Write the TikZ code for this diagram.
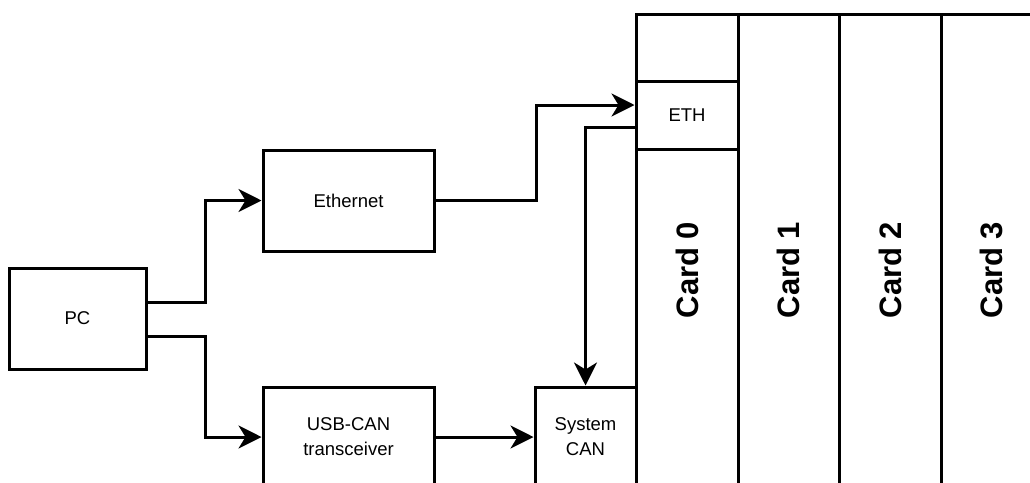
\documentclass[tikz,border=0pt]{standalone}
\usepackage{fontspec}
\setmainfont{Liberation Sans}
\usetikzlibrary{arrows.meta}
\begin{document}
\begin{tikzpicture}[x=1pt,y=-1pt,
  box/.style={draw, line width=3pt, inner sep=0pt, align=center, font=\fontsize{18.5}{25}\selectfont},
  conn/.style={line width=3pt, -{Stealth[length=23pt,width=23pt,inset=7pt]}},
  cardlbl/.style={rotate=90, inner sep=0pt, font=\fontsize{31}{36}\selectfont\bfseries},
  cardbox/.style={draw, line width=3pt, inner sep=0pt, minimum height=520pt}
]
\useasboundingbox (0,0) rectangle (1030,482);
\clip (0,0) rectangle (1030,482);
% rack of cards
\node[cardbox, minimum width=102pt] (card0) at (687,274) {};
\node[cardbox, minimum width=101pt] (card1) at (788.5,274) {};
\node[cardbox, minimum width=102pt] (card2) at (890,274) {};
\node[cardbox, minimum width=101pt] (card3) at (991.5,274) {};
\node[cardlbl] (l0) at (687,270) {Card 0};
\node[cardlbl] (l1) at (788.5,270) {Card 1};
\node[cardlbl] (l2) at (890,270) {Card 2};
\node[cardlbl] (l3) at (991.5,270) {Card 3};
% boxes
\node[box, minimum width=102pt, minimum height=68pt] (ethp) at (687,115) {ETH};
\node[box, minimum width=137pt, minimum height=101pt] (pc) at (77.5,318.5) {PC};
\node[box, minimum width=171pt, minimum height=101pt] (eth) at (348.5,200.5) {Ethernet};
\node[box, minimum width=171pt, minimum height=100pt] (usb) at (348.5,437) {USB-CAN\\transceiver};
\node[box, minimum width=101pt, minimum height=100pt] (syscan) at (585.5,437) {System\\CAN};
% connectors
\draw[conn] ([yshift=16pt]pc.east) -- ++(58,0) |- (eth.west);
\draw[conn] ([yshift=-18pt]pc.east) -- ++(58,0) |- (usb.west);
\draw[conn] (usb.east) -- (syscan.west);
\draw[conn] (eth.east) -- ++(101,0) |- ([yshift=10pt]ethp.west);
\draw[conn] ([yshift=-12pt]ethp.west) -| (syscan.north);
\end{tikzpicture}
\end{document}
